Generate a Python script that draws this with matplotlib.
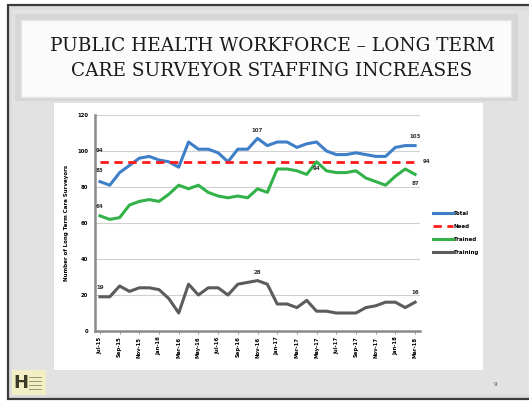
import matplotlib
matplotlib.use("Agg")
import matplotlib.pyplot as plt
from matplotlib.patches import Rectangle
from matplotlib.lines import Line2D

W, H = 529, 401

months = ["Jul-15", "Aug-15", "Sep-15", "Oct-15", "Nov-15", "Dec-15",
          "Jan-16", "Feb-16", "Mar-16", "Apr-16", "May-16", "Jun-16",
          "Jul-16", "Aug-16", "Sep-16", "Oct-16", "Nov-16", "Dec-16",
          "Jan-17", "Feb-17", "Mar-17", "Apr-17", "May-17", "Jun-17",
          "Jul-17", "Aug-17", "Sep-17", "Oct-17", "Nov-17", "Dec-17",
          "Jan-18", "Feb-18", "Mar-18"]
total = [83, 81, 88, 92, 96, 97, 95, 94, 91, 105, 101, 101, 99, 94, 101, 101, 107,
         103, 105, 105, 102, 104, 105, 100, 98, 98, 99, 98, 97, 97, 102, 103, 103]
need = [94] * 33
trained = [64, 62, 63, 70, 72, 73, 72, 76, 81, 79, 81, 77, 75, 74, 75, 74, 79,
           77, 90, 90, 89, 87, 94, 89, 88, 88, 89, 85, 83, 81, 86, 90, 87]
training = [19, 19, 25, 22, 24, 24, 23, 18, 10, 26, 20, 24, 24, 20, 26, 27, 28,
            26, 15, 15, 13, 17, 11, 11, 10, 10, 10, 13, 14, 16, 16, 13, 16]
series_names = ["Total", "Need", "Trained", "Training"]
colors = ["#3f7fc8", "#ff1a1a", "#33b24a", "#5c5c5c"]

fig = plt.figure(figsize=(W / 100, H / 100), dpi=100)
fig.patch.set_facecolor("white")


def prect(x0, y0, x1, y1, **kw):
    r = Rectangle((x0 / W, 1 - y1 / H), (x1 - x0) / W, (y1 - y0) / H,
                  transform=fig.transFigure, **kw)
    fig.add_artist(r)
    return r


# slide background
prect(8, 5, 535, 399, facecolor="#dcdcdc", edgecolor="#3a3a3a", lw=1.6, zorder=0)
prect(12, 10, 535, 395, facecolor="#e2e2e2", edgecolor="none", zorder=0)
# title box
prect(15, 14, 518, 101, facecolor="#d6d6d6", edgecolor="none", zorder=0)
prect(21, 20, 511, 97, facecolor="#fbfbfb", edgecolor="#e6e6e6", lw=1.0, zorder=0)
# chart area
prect(54, 103, 483, 370, facecolor="white", edgecolor="none", zorder=0)
# logo
prect(12, 370, 46, 395, facecolor="#f3efc4", edgecolor="none", zorder=0)
fig.text(21 / W, 1 - 383 / H, "H", fontsize=13, fontweight="bold", color="#3b3b2a",
         ha="center", va="center", family="DejaVu Sans")
for yy in (377, 381, 385, 389):
    fig.add_artist(Line2D([29 / W, 41 / W], [1 - yy / H, 1 - yy / H],
                          transform=fig.transFigure, color="#8a8a6a", lw=0.6))
fig.text(495 / W, 1 - 385 / H, "9", fontsize=4, color="#555555", ha="center", va="center")

# title
fig.text(272 / W, 1 - 46 / H, "PUBLIC HEALTH WORKFORCE \u2013 LONG TERM",
         fontsize=13.3, family="DejaVu Serif", color="#1a1a1a", ha="center", va="center")
fig.text(272 / W, 1 - 71 / H, "CARE SURVEYOR STAFFING INCREASES",
         fontsize=13.3, family="DejaVu Serif", color="#1a1a1a", ha="center", va="center")

# axes
ax = fig.add_axes([95 / W, 1 - 331 / H, (420 - 95) / W, (331 - 115) / H])
ax.set_facecolor("white")
x = list(range(len(months)))
data = [total, need, trained, training]
for vals, name, c in zip(data, series_names, colors):
    if name == "Need":
        ax.plot(x, vals, color=c, lw=2.0, ls=(0, (3, 2)), label=name, zorder=3)
    else:
        ax.plot(x, vals, color=c, lw=2.2, label=name, zorder=3,
                solid_joinstyle="round")

ax.set_xlim(-0.5, len(months) - 0.5)
ax.set_ylim(0, 120)
ax.set_yticks(range(0, 121, 20))
ax.yaxis.grid(True, color="#d0d0d0", lw=0.8)
ax.set_axisbelow(True)
ax.tick_params(axis="y", length=0, labelsize=3.8, pad=5)
for lab in ax.get_yticklabels():
    lab.set_fontweight("bold")
ax.set_xticks(x[::2])
ax.set_xticklabels(months[::2], rotation=90, fontsize=3.8, fontweight="bold")
ax.tick_params(axis="x", length=2, width=0.6, color="#888888", pad=2)
for s in ("top", "right"):
    ax.spines[s].set_visible(False)
for s in ("left", "bottom"):
    ax.spines[s].set_color("#8a8a8a")
    ax.spines[s].set_linewidth(1.8)
ax.set_ylabel("Number of Long Term Care Surveyors", fontsize=4, fontweight="bold",
              labelpad=6)

# data labels
lbl = dict(fontsize=4, fontweight="bold", color="#333333", ha="center",
           textcoords="offset points", annotation_clip=False)
ax.annotate(str(total[0]), (0, total[0]), xytext=(0, 6), va="bottom", **lbl)
ax.annotate(str(need[0]), (0, need[0]), xytext=(0, 6), va="bottom", **lbl)
ax.annotate(str(trained[0]), (0, trained[0]), xytext=(0, 5), va="bottom", **lbl)
ax.annotate(str(training[0]), (0, training[0]), xytext=(0, 5), va="bottom", **lbl)
ax.annotate(str(total[16]), (16, total[16]), xytext=(0, 4), va="bottom", **lbl)
ax.annotate(str(training[16]), (16, training[16]), xytext=(0, 4), va="bottom", **lbl)
ax.annotate(str(trained[22]), (22, trained[22]), xytext=(0, -3), va="top", **lbl)
ax.annotate(str(total[-1]), (32, total[-1]), xytext=(0, 5), va="bottom", **lbl)
ax.annotate(str(trained[-1]), (32, trained[-1]), xytext=(0, -5), va="top", **lbl)
ax.annotate(str(training[-1]), (32, training[-1]), xytext=(0, 5), va="bottom", **lbl)
ax.annotate(str(need[-1]), (32, need[-1]), xytext=(8, 0), va="center", **lbl)

leg = ax.legend(loc="upper left", bbox_to_anchor=(430 / W, 1 - 208 / H),
                bbox_transform=fig.transFigure, frameon=False, fontsize=4,
                handlelength=3.6, handletextpad=0.2, labelspacing=1.45,
                borderpad=0)
for t in leg.get_texts():
    t.set_fontweight("bold")

fig.savefig("out.png", dpi=100, facecolor=fig.get_facecolor())
